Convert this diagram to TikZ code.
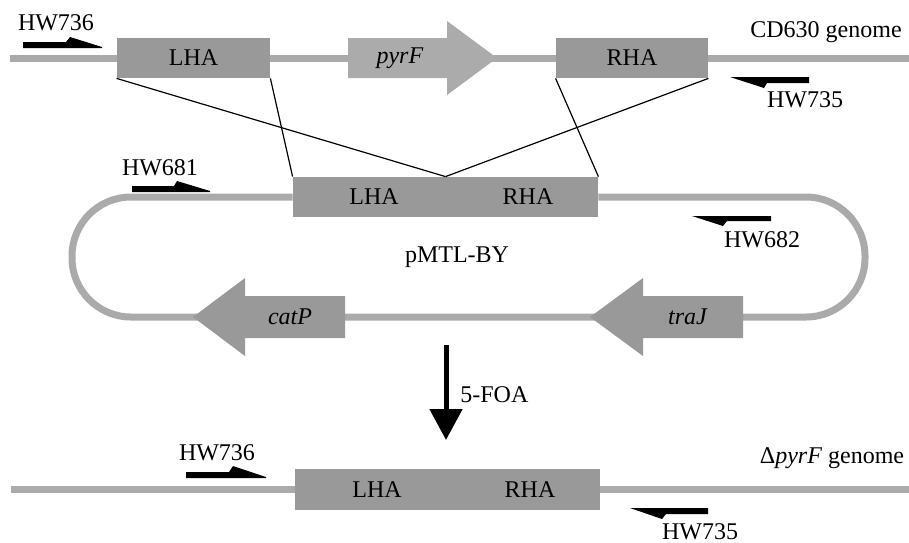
\documentclass[tikz,border=0pt]{standalone}
\usepackage{fontspec}
\setmainfont{Liberation Serif}
\usetikzlibrary{arrows.meta}
\definecolor{dnaline}{HTML}{AAAAAA}
\definecolor{hagrey}{HTML}{999999}
\definecolor{pyrgrey}{HTML}{ABABAB}

\begin{document}
\begin{tikzpicture}[x=0.5pt, y=-0.5pt,
    font=\fontsize{12}{14}\selectfont,
    dna/.style={draw=dnaline, line width=3.5pt},
    hbox/.style={rectangle, fill=hagrey, inner sep=0pt, minimum height=20pt},
    gene/.style={fill=hagrey},
    primer/.style={fill=black},
    cross/.style={draw, line width=0.6pt},
    lbl/.style={inner sep=0pt}]
    \useasboundingbox (0,0) rectangle (909,542);

    % CD630 genome
    \draw[dna] (10,58) -- (909,58);
    \node[hbox, minimum width=76.5pt] (lhaT) at (193.5,58) {LHA};
    \fill[pyrgrey] (348,38) -- (447,38) -- (447,21) -- (497,58) -- (447,95) -- (447,78) -- (348,78) -- cycle;
    \node[lbl] (pyrF) at (400,58) {\textit{pyrF}};
    \node[hbox, minimum width=76pt] (rhaT) at (632,58) {RHA};
    \node[lbl, anchor=base] (cdgen) at (826,37) {CD630 genome};

    % primers on genome
    \fill[primer] (23,42) -- (66,42) -- (70,37) -- (102,47) -- (102,48) -- (23,48) -- cycle;
    \node[lbl, anchor=base] (hwA) at (56,30) {HW736};
    \fill[primer] (809,77) -- (730,77) -- (764,88) -- (767,83) -- (809,83) -- cycle;
    \node[lbl, anchor=base] (hwB) at (805,107) {HW735};

    % pMTL-BY plasmid
    \node[hbox, minimum width=152.5pt] (plas) at (445.5,197) {};
    \node[lbl] (lhaP) at (374,197) {LHA};
    \node[lbl] (rhaP) at (528,197) {RHA};
    \draw[dna, rounded corners=29.5pt] (plas.west) -- (72,197) -- (72,317) -- (865,317) -- (865,197) -- (plas.east);
    \node[lbl, anchor=base] (pmtl) at (457,262) {pMTL-BY};

    \fill[gene] (345,296) -- (245,296) -- (245,278) -- (193,317) -- (245,356) -- (245,338) -- (345,338) -- cycle;
    \node[lbl] (catP) at (290,317) {\textit{catP}};
    \fill[gene] (743,296) -- (643,296) -- (643,278) -- (590,317) -- (643,356) -- (643,338) -- (743,338) -- cycle;
    \node[lbl] (traJ) at (688,317) {\textit{traJ}};

    \fill[primer] (132,186) -- (174,186) -- (177,181) -- (210,191) -- (210,192) -- (132,192) -- cycle;
    \node[lbl, anchor=base] (hwC) at (160,175) {HW681};
    \fill[primer] (771,216) -- (692,216) -- (723,226) -- (727,221) -- (771,221) -- cycle;
    \node[lbl, anchor=base] (hwD) at (762,247) {HW682};

    % crossing over
    \draw[cross] (lhaT.south west) -- (plas.north);
    \draw[cross] (lhaT.south east) -- (plas.north west);
    \draw[cross] (rhaT.south west) -- (plas.north east);
    \draw[cross] (rhaT.south east) -- (plas.north);

    % 5-FOA selection
    \coordinate (foaTop) at (446,345);
    \coordinate (foaTip) at (446,440);
    \draw[line width=2.5pt, -{Triangle[length=15.5pt, width=16pt]}] (foaTop) -- (foaTip);
    \node[lbl, anchor=base west] (foa) at (460,402) {5-FOA};

    % deletion genome
    \draw[dna] (11,489) -- (909,489);
    \node[hbox, minimum width=152.5pt, minimum height=20.5pt] (delG) at (447.5,489.5) {};
    \node[lbl] (lhaD) at (377,489.5) {LHA};
    \node[lbl] (rhaD) at (530,489.5) {RHA};
    \node[lbl, anchor=base] (delgen) at (832,463) {Δ\textit{pyrF} genome};

    \fill[primer] (186,472) -- (229,472) -- (233,466) -- (266,477) -- (266,478) -- (186,478) -- cycle;
    \node[lbl, anchor=base] (hwE) at (217,460) {HW736};
    \fill[primer] (708,508) -- (630,508) -- (662,519) -- (666,514) -- (708,514) -- cycle;
    \node[lbl, anchor=base] (hwF) at (700,539) {HW735};
\end{tikzpicture}
\end{document}
